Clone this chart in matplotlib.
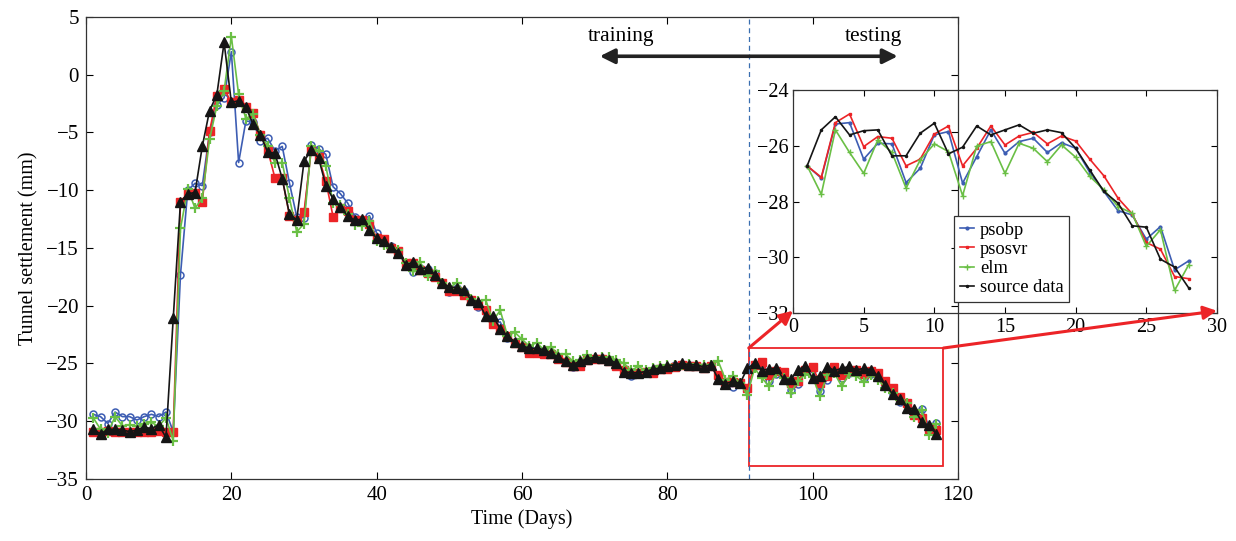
import numpy as np
import matplotlib
matplotlib.use('Agg')
import matplotlib.pyplot as plt
from matplotlib.patches import Rectangle, ConnectionPatch

plt.rcParams['font.family'] = ['Liberation Serif', 'DejaVu Serif']
plt.rcParams['font.size'] = 14

# fitted part, days 1-89
src_train = [-30.7, -31.1, -30.7, -30.7, -30.75, -30.9, -30.75, -30.5, -30.65, -30.3,
             -31.4, -21.1, -11.0, -10.3, -10.2, -6.2, -3.1, -1.75, 2.8, -2.4,
             -2.25, -2.8, -4.3, -5.2, -6.7, -6.8, -9.0, -12.1, -12.55, -7.5,
             -6.5, -7.2, -9.6, -10.75, -11.45, -12.25, -12.6, -12.5, -13.45, -14.15,
             -14.4, -14.9, -15.4, -16.45, -16.25, -16.8, -16.7, -17.35, -18.05, -18.35,
             -18.45, -18.65, -19.5, -19.65, -20.9, -20.9, -22.0, -22.65, -23.1, -23.5,
             -23.65, -23.7, -23.8, -24.1, -24.45, -24.8, -25.1, -24.8, -24.6, -24.45,
             -24.5, -24.7, -24.95, -25.7, -25.8, -25.8, -25.7, -25.5, -25.4, -25.2,
             -25.1, -25.0, -25.1, -25.1, -25.3, -25.1, -26.35, -26.75, -26.55]
psobp_train = [-29.4, -29.6, -30.2, -29.2, -29.6, -29.6, -29.9, -29.6, -29.4, -29.6,
               -29.2, -30.9, -17.3, -10.0, -9.4, -9.6, -5.0, -2.6, -2.0, 2.0,
               -7.6, -4.0, -4.1, -5.7, -5.5, -6.6, -6.2, -9.4, -12.3, -12.4,
               -6.1, -6.4, -6.9, -9.7, -10.3, -11.1, -12.3, -12.6, -12.2, -13.7,
               -14.3, -14.8, -15.3, -16.4, -17.1, -16.7, -16.8, -17.2, -18.0, -18.8,
               -18.5, -18.7, -19.5, -20.1, -20.5, -21.6, -21.4, -22.8, -23.1, -23.6,
               -23.7, -23.8, -23.9, -24.1, -24.5, -24.8, -25.3, -24.9, -24.6, -24.5,
               -24.5, -24.7, -25.0, -25.8, -26.1, -25.9, -25.8, -25.6, -25.4, -25.3,
               -25.1, -25.1, -25.1, -25.2, -25.3, -25.2, -26.2, -26.9, -27.0]
psosvr_train = [-30.9, -30.9, -30.85, -30.9, -30.9, -30.95, -30.9, -30.9, -30.9, -30.85,
                -30.9, -30.9, -11.0, -10.3, -10.2, -11.0, -4.9, -1.8, -1.2, -2.4,
                -2.2, -2.8, -3.3, -5.2, -6.5, -8.95, -8.95, -12.2, -12.6, -11.9,
                -6.5, -7.1, -9.2, -12.3, -11.5, -11.8, -12.6, -12.6, -12.9, -14.1,
                -14.2, -15.0, -15.3, -16.3, -16.3, -16.9, -17.2, -17.5, -18.0, -18.7,
                -18.7, -19.1, -19.5, -19.9, -20.4, -21.55, -22.0, -22.6, -23.2, -23.6,
                -24.1, -24.1, -24.2, -24.2, -24.6, -24.9, -25.2, -25.25, -24.7, -24.6,
                -24.6, -24.8, -25.25, -25.6, -25.85, -25.8, -25.7, -25.8, -25.5, -25.5,
                -25.3, -25.1, -25.2, -25.2, -25.4, -25.25, -26.0, -26.6, -26.6]
elm_train = [-29.7, -30.7, -31.0, -29.6, -30.4, -30.3, -30.45, -30.2, -30.1, -30.45,
             -29.7, -31.7, -13.3, -9.9, -11.55, -10.7, -5.6, -2.7, -1.4, 3.3,
             -1.7, -3.8, -3.4, -5.2, -6.15, -7.65, -7.6, -10.7, -13.6, -12.9,
             -6.2, -6.6, -7.9, -11.1, -11.25, -12.1, -13.0, -13.1, -12.7, -14.4,
             -14.7, -15.0, -15.2, -16.3, -17.0, -16.25, -17.4, -17.0, -18.0, -18.45,
             -18.0, -18.8, -19.4, -19.6, -19.5, -21.3, -20.4, -22.6, -22.3, -22.9,
             -23.5, -23.2, -23.8, -23.6, -24.2, -24.2, -24.8, -24.7, -24.3, -24.5,
             -24.4, -24.45, -24.7, -24.96, -25.6, -25.25, -25.6, -25.4, -25.2, -25.1,
             -25.1, -25.1, -25.05, -25.1, -25.1, -25.1, -24.8, -26.4, -26.06]

# predicted part, 28 samples (days 90-117)
test_x = list(range(1, 29))
src_test = [-26.72, -25.43, -24.96, -25.61, -25.46, -25.43, -26.36, -26.36, -25.55, -25.19,
            -26.29, -26.05, -25.29, -25.61, -25.43, -25.25, -25.55, -25.43, -25.53, -26.09,
            -26.87, -27.64, -28.06, -28.87, -28.92, -30.07, -30.35, -31.10]
psobp_test = [-26.72, -27.16, -25.22, -25.17, -26.48, -25.91, -25.93, -27.32, -26.81, -25.61,
              -25.49, -27.34, -26.39, -25.43, -26.27, -25.85, -25.73, -26.24, -25.89, -26.09,
              -26.96, -27.64, -28.33, -28.48, -29.35, -28.90, -30.45, -30.13]
psosvr_test = [-26.72, -27.13, -25.17, -24.86, -26.03, -25.67, -25.73, -26.72, -26.48, -25.58,
               -25.29, -26.72, -26.09, -25.29, -25.97, -25.65, -25.52, -25.93, -25.65, -25.83,
               -26.48, -27.08, -27.88, -28.44, -29.47, -29.71, -30.69, -30.77]
elm_test = [-26.72, -27.74, -25.43, -26.24, -26.99, -25.79, -26.24, -27.52, -26.51, -25.93,
            -26.21, -27.79, -26.01, -25.85, -26.99, -25.91, -26.09, -26.57, -25.97, -26.41,
            -27.10, -27.58, -28.18, -28.42, -29.61, -29.01, -31.19, -30.27]

split_day = 91.2
zoom_box = (91.2, 118.0, -33.9, -23.66)

C_BLUE = '#3d5db3'
C_RED = '#ec2427'
C_GREEN = '#6abf45'
C_BLACK = '#151515'

days = np.arange(1, len(src_train) + len(src_test) + 1)

fig = plt.figure(figsize=(12.36, 5.41), dpi=100)
ax = fig.add_axes([0.0696, 0.1146, 0.7055, 0.854])

ax.plot(days, psobp_train + psobp_test, color=C_BLUE, lw=1.2, marker='o', ms=5,
        mfc='none', mec=C_BLUE, mew=1.1)
ax.plot(days, psosvr_train + psosvr_test, color=C_RED, lw=1.2, marker='s', ms=5.5,
        mfc=C_RED, mec=C_RED)
ax.plot(days, elm_train + elm_test, color=C_GREEN, lw=1.2, marker='+', ms=7, mew=1.6)
ax.plot(days, src_train + src_test, color=C_BLACK, lw=1.2, marker='^', ms=7,
        mfc=C_BLACK, mec=C_BLACK)

ax.set_xlim(0, 120)
ax.set_ylim(-35, 5)
ax.set_xticks(range(0, 121, 20))
ax.set_yticks(range(-35, 6, 5))
ax.tick_params(direction='in', top=True, right=True, length=5, labelsize=15, pad=5)
ax.set_xlabel('Time (Days)', fontsize=14.5, labelpad=3)
ax.set_ylabel('Tunnel settlement (mm)', fontsize=14.5, labelpad=6)
for s in ax.spines.values():
    s.set_linewidth(0.9)
    s.set_color('#333333')

# train / test split
ax.axvline(split_day, color='#3a6fb0', ls=(0, (4, 3)), lw=0.9)
ax.annotate('', xy=(70.7, 1.6), xytext=(111.7, 1.6),
            arrowprops=dict(arrowstyle='<|-|>', color='#222222', lw=2.6,
                            mutation_scale=22, shrinkA=0, shrinkB=0))
ax.text(73.6, 3.35, 'training', ha='center', va='center', fontsize=15.5)
ax.text(108.3, 3.35, 'testing', ha='center', va='center', fontsize=15.5)

x0, x1, y0, y1 = zoom_box
ax.add_patch(Rectangle((x0, y0), x1 - x0, y1 - y0, fill=False, ec=C_RED, lw=1.3))

# zoomed view of the test period
ins = fig.add_axes([0.6416, 0.4214, 0.343, 0.4122])
ins.set_facecolor('none')
ins.plot(test_x, psobp_test, color=C_BLUE, lw=1.2, marker='.', ms=4, label='psobp')
ins.plot(test_x, psosvr_test, color=C_RED, lw=1.2, marker='s', ms=2, label='psosvr')
ins.plot(test_x, elm_test, color=C_GREEN, lw=1.2, marker='+', ms=4, label='elm')
ins.plot(test_x, src_test, color=C_BLACK, lw=1.2, marker='.', ms=3, label='source data')
ins.set_xlim(0, 30)
ins.set_ylim(-32, -24)
ins.set_xticks(range(0, 31, 5))
ins.set_yticks(range(-32, -23, 2))
ins.tick_params(direction='in', top=True, right=True, length=4, labelsize=14.5)
for s in ins.spines.values():
    s.set_linewidth(0.9)
    s.set_color('#333333')
leg = ins.legend(loc='lower left', bbox_to_anchor=(0.38, 0.05), fancybox=False,
                 edgecolor='#333333', framealpha=1, fontsize=13.3, handlelength=0.8,
                 handletextpad=0.3, borderpad=0.3, labelspacing=0.12, borderaxespad=0)
leg.get_frame().set_linewidth(0.9)

for xa, xb in [(x0, 0.0), (x1, 1.0)]:
    cp = ConnectionPatch(xyA=(xa, y1), coordsA=ax.transData,
                         xyB=(xb, 0.01), coordsB=ins.transAxes,
                         arrowstyle='-|>', color=C_RED, lw=2.2, mutation_scale=20,
                         shrinkA=0, shrinkB=0)
    fig.add_artist(cp)

fig.savefig('out.png', dpi=100)
